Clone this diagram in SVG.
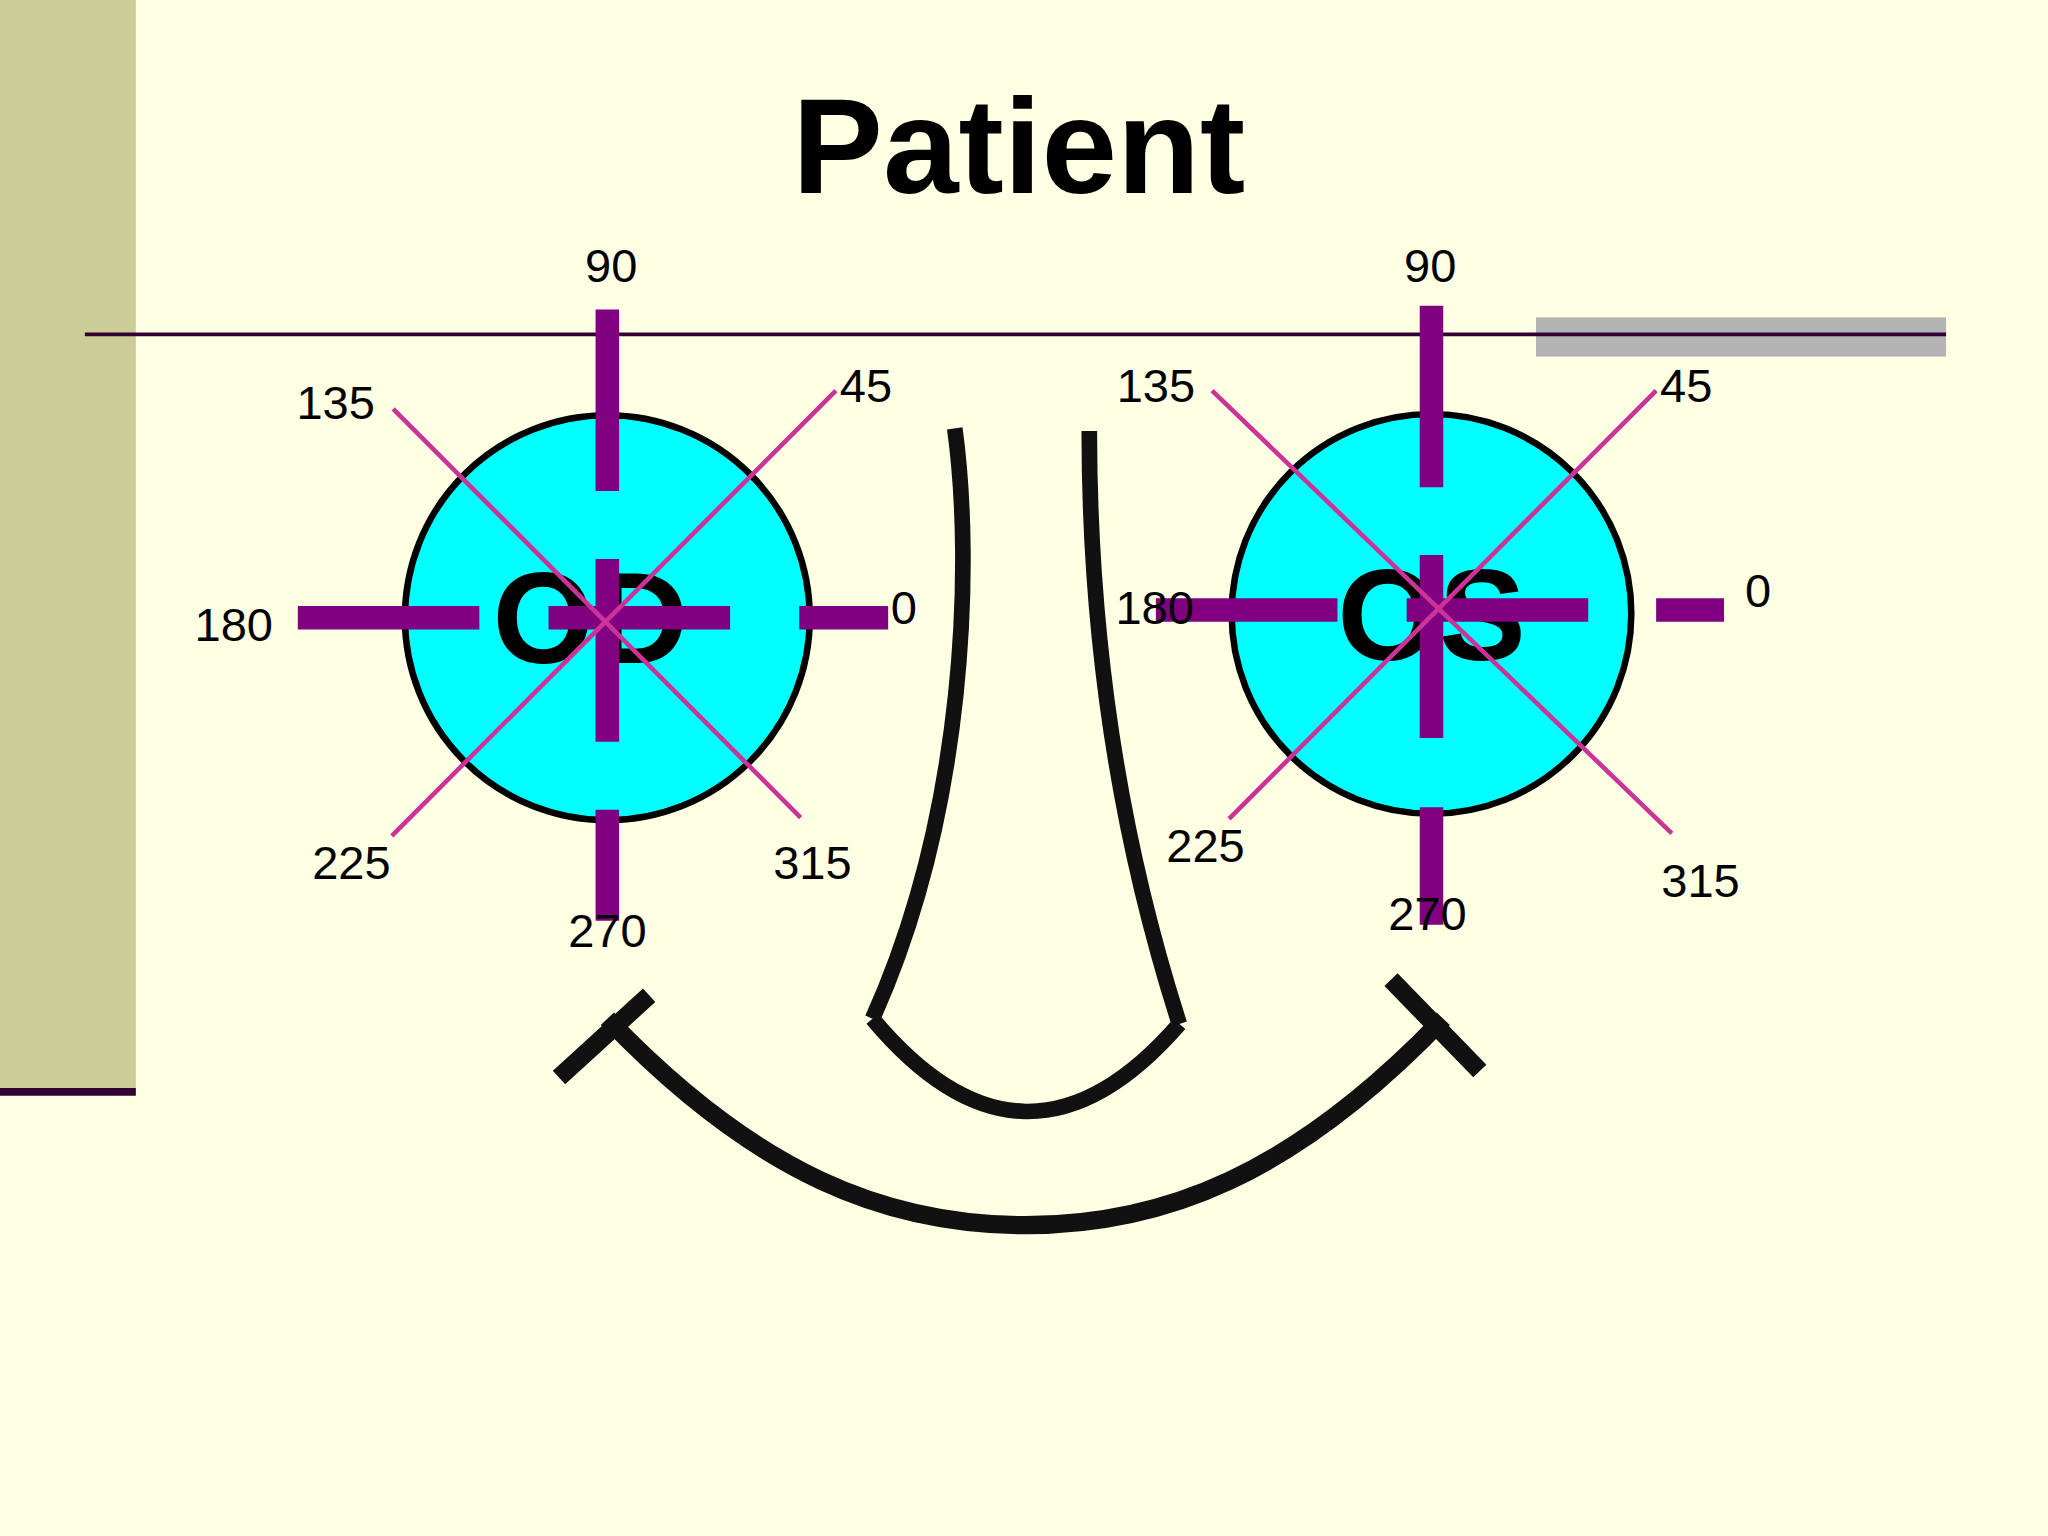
<svg xmlns="http://www.w3.org/2000/svg" width="2048" height="1536" viewBox="0 0 2048 1536">
<style>
.lbl{font-family:"Liberation Sans",Arial,sans-serif;font-size:36px;fill:#000;text-anchor:middle}
.big{font-family:"Liberation Sans",Arial,sans-serif;font-weight:bold;fill:#000;text-anchor:middle}
.thick{stroke:#800080;stroke-width:18;fill:none}
.thin{stroke:#CC3399;stroke-width:3.5;fill:none}
.blk{stroke:#111;fill:none}
</style>
<rect width="2048" height="1536" fill="#FFFFE3"/>
<g transform="scale(1.3061)">
<rect x="0" y="0" width="104" height="836" fill="#CCCC99"/>
<line x1="0" y1="836" x2="104" y2="836" stroke="#330033" stroke-width="6"/>
<rect x="1176" y="243" width="314" height="30" fill="#B3B3B3"/>
<line x1="65" y1="256" x2="1490" y2="256" stroke="#330033" stroke-width="3"/>
<text class="big" x="780" y="148" font-size="104">Patient</text>
<g id="OD">
<circle cx="465" cy="473" r="155" fill="#00FFFF" stroke="#000" stroke-width="5"/>
<text class="big" x="452" y="508" font-size="100">OD</text>
<path class="thick" d="M465,237V376M465,428V568M465,620V705M228,473H367M420,473H559M612,473H680"/>
<path class="thin" d="M301,313L613,626M640,299L300,640"/>
<text class="lbl" x="468" y="216">90</text>
<text class="lbl" x="257" y="321">135</text>
<text class="lbl" x="663" y="308">45</text>
<text class="lbl" x="179" y="491">180</text>
<text class="lbl" x="692" y="478">0</text>
<text class="lbl" x="269" y="673">225</text>
<text class="lbl" x="622" y="673">315</text>
<text class="lbl" x="465" y="725">270</text>
</g>
<g id="OS">
<circle cx="1096" cy="470" r="153" fill="#00FFFF" stroke="#000" stroke-width="5"/>
<text class="big" x="1096" y="505" font-size="100">OS</text>
<path class="thick" d="M1096,234V373M1096,425V565M1096,618V708M885,467H1024M1077,467H1216M1268,467H1320"/>
<path class="thin" d="M928,299L1280,638M1268,299L941,627"/>
<text class="lbl" x="1095" y="216">90</text>
<text class="lbl" x="885" y="308">135</text>
<text class="lbl" x="1291" y="308">45</text>
<text class="lbl" x="884" y="478">180</text>
<text class="lbl" x="1346" y="465">0</text>
<text class="lbl" x="923" y="660">225</text>
<text class="lbl" x="1302" y="687">315</text>
<text class="lbl" x="1093" y="712">270</text>
</g>
<g id="nose">
<path class="blk" stroke-width="12" d="M731,328C745,430 740,620 668,780M834,330C834,500 860,650 903,784M668,780Q785,920 903,784"/>
</g>
<g id="mouth">
<path class="blk" stroke-width="14" d="M465,780C580,900 680,938 785,938C890,938 990,900 1105,780"/>
<path class="blk" stroke-width="14" d="M428,825L497,762M1065,750L1133,820"/>
</g>
</g>
</svg>
